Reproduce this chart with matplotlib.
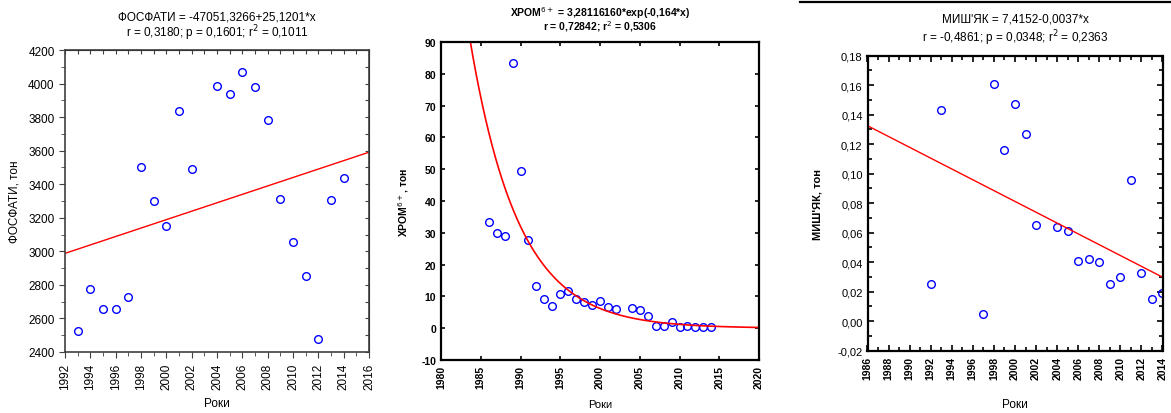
import numpy as np
import matplotlib
matplotlib.use("Agg")
import matplotlib.pyplot as plt
from matplotlib.ticker import MultipleLocator, FuncFormatter
from matplotlib.lines import Line2D

plt.rcParams['font.family'] = ['Liberation Sans', 'DejaVu Sans']
plt.rcParams['axes.unicode_minus'] = False

# phosphates, t
phos_years = [1993, 1994, 1995, 1996, 1997, 1998, 1999, 2000, 2001, 2002,
              2004, 2005, 2006, 2007, 2008, 2009, 2010, 2011, 2012, 2013, 2014]
phos = [2525, 2775, 2655, 2655, 2730, 3500, 3300, 3150, 3835, 3490,
        3985, 3940, 4070, 3980, 3785, 3310, 3055, 2850, 2480, 3305, 3435]
phos_a, phos_b = -47051.3266, 25.1201

# chromium (VI), t
chrom_years = [1986, 1987, 1988, 1989, 1990, 1991, 1992, 1993, 1994, 1995,
               1996, 1997, 1998, 1999, 2000, 2001, 2002, 2004, 2005, 2006,
               2007, 2008, 2009, 2010, 2011, 2012, 2013, 2014]
chrom = [33.3, 30.0, 29.1, 83.5, 49.5, 27.8, 13.3, 9.2, 7.1, 10.7,
         11.8, 9.2, 8.1, 7.4, 8.6, 6.6, 6.0, 6.2, 5.7, 3.8,
         0.6, 0.6, 1.8, 0.5, 0.8, 0.4, 0.3, 0.3]
chrom_rate = 0.164
chrom_at_1990 = 32.0

# arsenic, t
ars_years = [1992, 1993, 1997, 1998, 1999, 2000, 2001, 2002, 2004, 2005,
             2006, 2007, 2008, 2009, 2010, 2011, 2012, 2013, 2014]
ars = [0.025, 0.143, 0.005, 0.161, 0.116, 0.147, 0.127, 0.065, 0.064, 0.061,
       0.041, 0.042, 0.040, 0.025, 0.030, 0.096, 0.033, 0.015, 0.019]
ars_a, ars_b = 7.4152, -0.003667

W, H = 1171, 414
fig = plt.figure(figsize=(W / 100, H / 100), dpi=100)


def box(l, t, r, b):
    return [l / W, 1 - b / H, (r - l) / W, (b - t) / H]


mk = dict(ls='none', marker='o', ms=5.5, mfc='none', mec='#0000ff', mew=1.0)

# ---- phosphates
ax1 = fig.add_axes(box(65, 51, 369, 353))
ax1.plot(phos_years, phos, **mk)
xx = np.array([1992, 2016])
ax1.plot(xx, phos_a + phos_b * xx, color='#ff0000', lw=1)
ax1.set_xlim(1992, 2016)
ax1.set_ylim(2400, 4200)
ax1.xaxis.set_major_locator(MultipleLocator(2))
ax1.xaxis.set_minor_locator(MultipleLocator(1))
ax1.yaxis.set_major_locator(MultipleLocator(200))
ax1.yaxis.set_minor_locator(MultipleLocator(100))
ax1.tick_params(which='both', direction='out', labelsize=8.5, color='#404040')
ax1.tick_params(which='major', length=4)
ax1.tick_params(which='minor', length=3)
ax1.tick_params(axis='x', labelrotation=90)
for s in ax1.spines.values():
    s.set_color('#404040')
    s.set_linewidth(1.2)
top = ax1.secondary_xaxis('top')
top.xaxis.set_major_locator(MultipleLocator(1))
top.tick_params(direction='in', length=3, labeltop=False, color='#404040')
right = ax1.secondary_yaxis('right')
right.yaxis.set_major_locator(MultipleLocator(100))
right.tick_params(direction='in', length=3, labelright=False, color='#404040')
ax1.set_xlabel('Роки', fontsize=8.5)
ax1.xaxis.set_label_coords(0.5, -0.149)
ax1.set_ylabel('ФОСФАТИ, тон', fontsize=8.5)
ax1.yaxis.set_label_coords(-0.145, 0.5)
fig.text(217 / W, 1 - 18 / H, 'ФОСФАТИ = -47051,3266+25,1201*x',
         ha='center', va='center', fontsize=8.5)
fig.text(217 / W, 1 - 33 / H, 'r = 0,3180; p = 0,1601; r$^2$ = 0,1011',
         ha='center', va='center', fontsize=8.5)

# ---- chromium
ax2 = fig.add_axes(box(441, 43, 759, 361))
ax2.plot(chrom_years, chrom, **mk)
cx = np.linspace(1980, 2020, 400)
ax2.plot(cx, chrom_at_1990 * np.exp(-chrom_rate * (cx - 1990)),
         color='#ff0000', lw=1.2)
ax2.set_xlim(1980, 2020)
ax2.set_ylim(-10, 90)
ax2.xaxis.set_major_locator(MultipleLocator(5))
ax2.yaxis.set_major_locator(MultipleLocator(10))
ax2.tick_params(direction='in', length=3, width=1.2, top=True, right=True,
                labelsize=7.5)
ax2.tick_params(axis='x', labelrotation=90)
for lab in ax2.get_xticklabels() + ax2.get_yticklabels():
    lab.set_fontweight('bold')
for s in ax2.spines.values():
    s.set_linewidth(1.6)
ax2.set_xlabel('Роки', fontsize=8)
ax2.xaxis.set_label_coords(0.5, -0.123)
ax2.set_ylabel('ХРОМ$^{6+}$, тон', fontsize=7.5, fontweight='bold')
ax2.yaxis.set_label_coords(-0.095, 0.5)
fig.text(600 / W, 1 - 13 / H, 'ХРОМ$^{6+}$ = 3,28116160*exp(-0,164*x)',
         ha='center', va='center', fontsize=7.5, fontweight='bold')
fig.text(600 / W, 1 - 27 / H, 'r = 0,72842; r$^2$ = 0,5306',
         ha='center', va='center', fontsize=7.5, fontweight='bold')

# ---- arsenic
ax3 = fig.add_axes(box(867.5, 56.7, 1162.5, 351.7))
ax3.plot(ars_years, ars, **mk)
ax = np.array([1986, 2014])
ax3.plot(ax, ars_a + ars_b * ax, color='#ff0000', lw=1)
ax3.set_xlim(1986, 2014)
ax3.set_ylim(-0.02, 0.18)
ax3.xaxis.set_major_locator(MultipleLocator(2))
ax3.xaxis.set_minor_locator(MultipleLocator(1))
ax3.yaxis.set_major_locator(MultipleLocator(0.02))
ax3.yaxis.set_minor_locator(MultipleLocator(0.01))
ax3.yaxis.set_major_formatter(FuncFormatter(lambda v, p: f'{v:.2f}'.replace('.', ',')))
ax3.tick_params(which='both', direction='in', top=True, right=True, width=1.2)
ax3.tick_params(which='major', length=4, labelsize=8)
ax3.tick_params(which='minor', length=3)
ax3.tick_params(axis='x', labelrotation=90, labelsize=7.5)
for lab in ax3.get_xticklabels():
    lab.set_fontweight('bold')
for s in ax3.spines.values():
    s.set_linewidth(1.6)
ax3.set_xlabel('Роки', fontsize=8.5)
ax3.xaxis.set_label_coords(0.5, -0.16)
ax3.set_ylabel("МИШ'ЯК, тон", fontsize=8, fontweight='bold')
ax3.yaxis.set_label_coords(-0.154, 0.5)
fig.text(1015 / W, 1 - 20 / H, "МИШ'ЯК = 7,4152-0,0037*x",
         ha='center', va='center', fontsize=8.5)
fig.text(1015 / W, 1 - 38 / H, 'r = -0,4861; p = 0,0348; r$^2$ = 0,2363',
         ha='center', va='center', fontsize=8.5)

fig.add_artist(Line2D([800 / W, 1], [1 - 3 / H, 1 - 3 / H],
                      transform=fig.transFigure, color='k', lw=1.6))

fig.savefig('out.png', dpi=100)
